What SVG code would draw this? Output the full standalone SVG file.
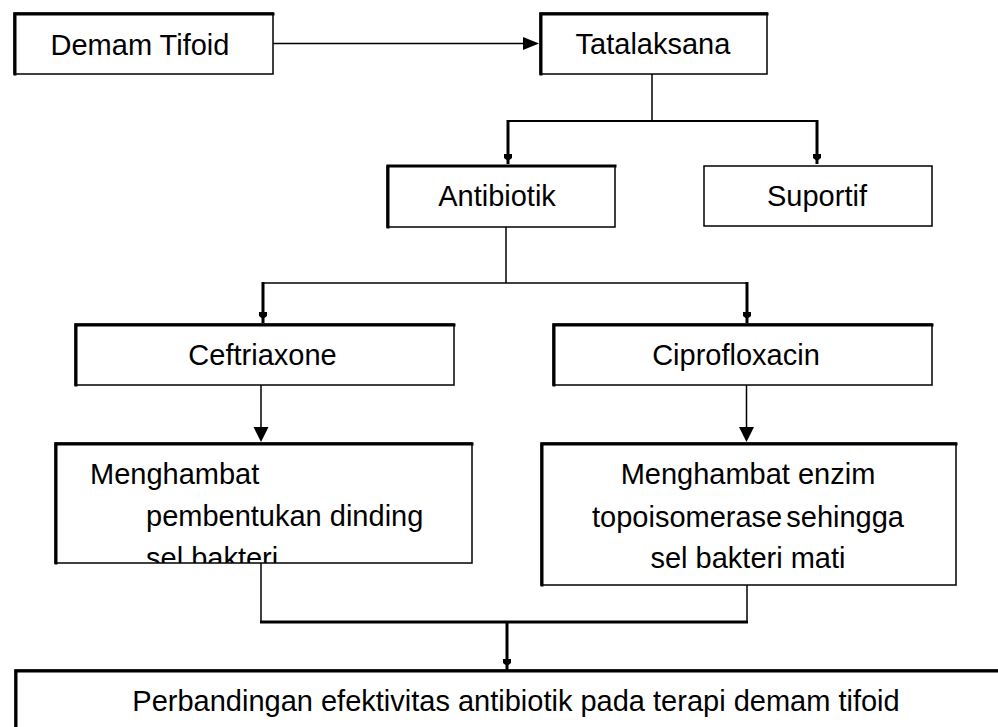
<svg xmlns="http://www.w3.org/2000/svg" width="998" height="727" viewBox="0 0 998 727">
<style>
.box{fill:#fff;stroke:#000;stroke-width:1.5}
.edge{fill:none;stroke:#000;stroke-width:3;stroke-linecap:square}
.t{font-family:"Liberation Sans",Arial,sans-serif;font-size:29px;fill:#000}
.c{text-anchor:middle}
.ln{fill:none;stroke:#000;stroke-width:1.5}
.thk{fill:none;stroke:#000;stroke-width:3}
.md{fill:none;stroke:#000;stroke-width:2}
</style>
<defs>
<clipPath id="clipL"><rect x="55" y="443" width="417" height="120"/></clipPath>
</defs>
<rect width="998" height="727" fill="#fff"/>
<g id="connectors">
<line class="ln" x1="273" y1="43.5" x2="526" y2="43.5"/>
<polygon points="539,43.5 523,37 523,50" fill="#000"/>
<line class="ln" x1="652" y1="74" x2="652" y2="121"/>
<line class="md" x1="508" y1="121" x2="817" y2="121"/>
<line class="thk" x1="508" y1="120" x2="508" y2="156"/>
<path d="M504,154 H512 V158 L509.5,160 V164 H506.5 V160 L504,158 Z" fill="#000"/>
<line class="thk" x1="817" y1="120" x2="817" y2="156"/>
<path d="M813,154 H821 V158 L818.5,160 V164 H815.5 V160 L813,158 Z" fill="#000"/>
<line class="ln" x1="506" y1="227" x2="506" y2="283"/>
<line class="ln" x1="263" y1="283" x2="747" y2="283"/>
<line class="thk" x1="263" y1="282" x2="263" y2="314"/>
<path d="M259,312 H267 V316 L264.5,318 V323 H261.5 V318 L259,316 Z" fill="#000"/>
<line class="thk" x1="747" y1="282" x2="747" y2="314"/>
<path d="M743,312 H751 V316 L748.5,318 V323 H745.5 V318 L743,316 Z" fill="#000"/>
<line class="ln" x1="261" y1="385" x2="261" y2="429"/>
<polygon points="261,442 253.5,427 268.5,427" fill="#000"/>
<line class="ln" x1="746.5" y1="385" x2="746.5" y2="429"/>
<polygon points="746.5,442 739,427 754,427" fill="#000"/>
<line class="ln" x1="261" y1="563" x2="261" y2="622"/>
<line class="ln" x1="747" y1="585" x2="747" y2="622"/>
<line class="thk" x1="260" y1="622" x2="748" y2="622"/>
<line class="thk" x1="507" y1="622" x2="507" y2="661"/>
<path d="M503,659 H511 V663 L508.5,665 V670 H505.5 V665 L503,663 Z" fill="#000"/>
</g>
<g id="n1">
<rect class="box" x="14" y="13" width="259" height="61"/>
<path class="edge" d="M15,74 V14 H273"/>
<text class="t c" x="140" y="55">Demam Tifoid</text>
</g>
<g id="n2">
<rect class="box" x="540" y="13" width="227" height="61"/>
<path class="edge" d="M541,74 V14 H767"/>
<text class="t c" x="653" y="54">Tatalaksana</text>
</g>
<g id="n3">
<rect class="box" x="387" y="166" width="228" height="61"/>
<path class="edge" d="M388,227 V166 H615"/>
<text class="t c" x="497" y="206">Antibiotik</text>
</g>
<g id="n4">
<rect class="box" x="704" y="166" width="228" height="60"/>
<text class="t c" x="817" y="206">Suportif</text>
</g>
<g id="n5">
<rect class="box" x="75" y="324" width="379" height="61"/>
<path class="edge" d="M76,385 V325 H454"/>
<text class="t c" x="262.5" y="365">Ceftriaxone</text>
</g>
<g id="n6">
<rect class="box" x="553" y="324" width="379" height="61"/>
<path class="edge" d="M554,385 V325 H932"/>
<text class="t c" x="736" y="365">Ciprofloxacin</text>
</g>
<g id="n7">
<rect class="box" x="55" y="443" width="417" height="120"/>
<path class="edge" d="M56,563 V444 H472"/>
<g clip-path="url(#clipL)">
<text class="t" x="90" y="484">Menghambat</text>
<text class="t" x="146" y="526">pembentukan dinding</text>
<text class="t" x="146" y="568">sel bakteri</text>
</g>
</g>
<g id="n8">
<rect class="box" x="541" y="443" width="415" height="142"/>
<path class="edge" d="M542,585 V444 H956"/>
<text class="t c" x="748" y="484">Menghambat enzim</text>
<text class="t c" x="748" y="527" word-spacing="-4">topoisomerase sehingga</text>
<text class="t c" x="748" y="568">sel bakteri mati</text>
</g>
<g id="n9">
<rect class="box" x="15" y="670" width="1000" height="100"/>
<path class="edge" d="M16,770 V671 H1000"/>
<text class="t c" x="516" y="711">Perbandingan efektivitas antibiotik pada terapi demam tifoid</text>
</g>
</svg>
